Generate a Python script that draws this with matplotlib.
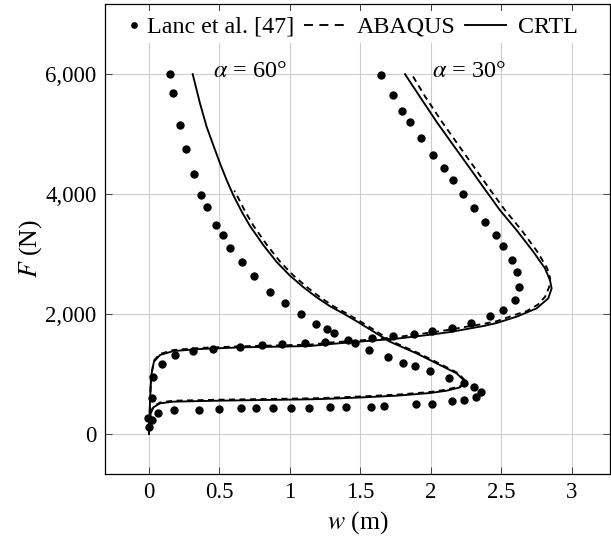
import matplotlib
matplotlib.use("Agg")
import matplotlib.pyplot as plt
from matplotlib.lines import Line2D
from matplotlib.legend_handler import HandlerBase
from matplotlib.ticker import FixedLocator

plt.rcParams['font.family'] = ['Liberation Serif', 'DejaVu Serif']
plt.rcParams['mathtext.fontset'] = 'stix'

# ---------------- data ----------------
# Lanc et al. [47], alpha = 60 deg
lanc60_w = [0.002, 0.022, 0.066, 0.18, 0.355, 0.50, 0.65, 0.76, 0.877, 1.01, 1.135, 1.284,
            1.397, 1.577, 1.668, 1.892, 2.008, 2.151, 2.235, 2.318, 2.354, 2.307, 2.236,
            2.126, 1.993, 1.889, 1.804, 1.695, 1.564, 1.463, 1.313, 1.262, 1.184, 1.076,
            0.962, 0.858, 0.742, 0.657, 0.574, 0.523, 0.477, 0.414, 0.371, 0.317, 0.262,
            0.218, 0.172, 0.149]
lanc60_F = [115, 228, 350, 398, 400, 425, 428, 428, 428, 433, 439, 450,
            456, 458, 460, 494, 508, 545, 567, 622, 698, 778, 845,
            942, 1050, 1133, 1192, 1286, 1406, 1522, 1680, 1745, 1838, 1995,
            2183, 2367, 2633, 2862, 3106, 3312, 3489, 3789, 3989, 4328, 4755,
            5145, 5694, 6000]
# Lanc et al. [47], alpha = 30 deg
lanc30_w = [-0.007, 0.024, 0.031, 0.09, 0.184, 0.31, 0.456, 0.645, 0.80, 0.94, 1.108, 1.25,
            1.415, 1.58, 1.732, 1.88, 2.01, 2.147, 2.282, 2.422, 2.513, 2.596, 2.626,
            2.607, 2.572, 2.514, 2.46, 2.381, 2.307, 2.228, 2.156, 2.09, 2.017, 1.931,
            1.853, 1.797, 1.728, 1.643]
lanc30_F = [264, 600, 956, 1175, 1314, 1383, 1415, 1453, 1483, 1494, 1522, 1539,
            1562, 1603, 1633, 1670, 1717, 1775, 1847, 1960, 2075, 2241, 2447,
            2695, 2903, 3136, 3320, 3542, 3767, 3997, 4233, 4433, 4645, 4928,
            5195, 5383, 5650, 5990]

# CRTL, alpha = 60 deg
crtl60_w = [0.0, 0.002, 0.012, 0.031, 0.078, 0.172, 0.504, 1.142, 1.284, 1.52, 1.757, 1.993,
            2.111, 2.206, 2.245, 2.182, 2.064, 1.898, 1.709, 1.556, 1.473, 1.378, 1.284,
            1.189, 1.094, 1.0, 0.905, 0.811, 0.716, 0.655, 0.598, 0.551, 0.504, 0.456,
            0.409, 0.362, 0.31]
crtl60_F = [0, 178, 344, 444, 511, 539, 556, 578, 588, 611, 639, 683,
            722, 778, 870, 1011, 1150, 1344, 1539, 1760, 1880, 2010, 2130,
            2280, 2450, 2640, 2870, 3150, 3470, 3720, 3983, 4233, 4511, 4817,
            5122, 5511, 6000]
# ABAQUS, alpha = 60 deg
abaq60_w = [0.0, 0.002, 0.012, 0.03, 0.078, 0.172, 0.504, 1.142, 1.284, 1.52, 1.757, 1.993,
            2.111, 2.206, 2.25, 2.195, 2.08, 1.915, 1.728, 1.58, 1.497, 1.402, 1.309,
            1.214, 1.12, 1.026, 0.931, 0.837, 0.742, 0.68, 0.623, 0.605]
abaq60_F = [0, 180, 350, 455, 525, 555, 572, 594, 604, 628, 656, 700,
            740, 795, 870, 1011, 1150, 1344, 1539, 1760, 1880, 2010, 2130,
            2280, 2450, 2640, 2870, 3150, 3470, 3720, 3983, 4060]

# CRTL, alpha = 30 deg
crtl30_w = [0.0, 0.007, 0.012, 0.019, 0.035, 0.078, 0.172, 0.362, 0.645, 1.142, 1.284, 1.52,
            1.757, 1.993, 2.135, 2.229, 2.371, 2.465, 2.607, 2.749, 2.832, 2.856, 2.844,
            2.809, 2.726, 2.607, 2.489, 2.395, 2.277, 2.158, 2.04, 1.922, 1.816]
crtl30_F = [0, 511, 789, 1011, 1206, 1317, 1383, 1417, 1444, 1467, 1500, 1545,
            1590, 1655, 1700, 1740, 1800, 1850, 1956, 2094, 2261, 2428, 2567,
            2761, 3039, 3400, 3733, 4039, 4428, 4817, 5205, 5622, 6000]
# ABAQUS, alpha = 30 deg
abaq30_w = [0.0, 0.007, 0.012, 0.019, 0.035, 0.078, 0.172, 0.362, 0.645, 1.142, 1.284, 1.52,
            1.757, 1.993, 2.135, 2.229, 2.371, 2.465, 2.6, 2.68, 2.76, 2.81, 2.838,
            2.845, 2.825, 2.755, 2.642, 2.525, 2.43, 2.313, 2.195, 2.078, 1.96, 1.863]
abaq30_F = [0, 515, 795, 1020, 1225, 1335, 1400, 1435, 1462, 1490, 1525, 1565,
            1615, 1690, 1740, 1780, 1835, 1880, 1990, 2050, 2160, 2290, 2450,
            2600, 2761, 3039, 3400, 3733, 4039, 4428, 4817, 5205, 5622, 6000]

x_ticks = [0, 0.5, 1, 1.5, 2, 2.5, 3]
x_ticklabels = ["0", "0.5", "1", "1.5", "2", "2.5", "3"]
y_ticks = [0, 2000, 4000, 6000]
y_ticklabels = ["0", "2,000", "4,000", "6,000"]

# ---------------- figure ----------------
W, H = 611, 541
fig = plt.figure(figsize=(W / 100, H / 100), dpi=100)
left, right, top, bottom = 105, 610, 4, 474
ax = fig.add_axes([left / W, (H - bottom) / H, (right - left) / W, (bottom - top) / H])

ax.set_xlim(-0.312, 3.27)
ax.set_ylim(-667, 7170)

fs_tick = 16.5
fs_leg = 17.3
fs_lab = 18.5
fs_ann = 17.5
lw = 1.35
dash = (0, (3.2, 2.4))
msz = 5.0

ax.plot(lanc60_w, lanc60_F, linestyle='None', marker='o', ms=msz, color='black', zorder=4)
ax.plot(lanc30_w, lanc30_F, linestyle='None', marker='o', ms=msz, color='black', zorder=4)
ax.plot(abaq60_w, abaq60_F, linestyle=dash, lw=lw, color='black', zorder=3)
ax.plot(abaq30_w, abaq30_F, linestyle=dash, lw=lw, color='black', zorder=3)
ax.plot(crtl60_w, crtl60_F, linestyle='-', lw=lw, color='black', zorder=3)
ax.plot(crtl30_w, crtl30_F, linestyle='-', lw=lw, color='black', zorder=3)

ax.text(0.455, 6040, r'$\alpha$ = 60°', fontsize=fs_ann, ha='left', va='center')
ax.text(2.005, 6040, r'$\alpha$ = 30°', fontsize=fs_ann, ha='left', va='center')

# ticks / grid
ax.xaxis.set_major_locator(FixedLocator(x_ticks))
ax.set_xticklabels(x_ticklabels)
ax.yaxis.set_major_locator(FixedLocator(y_ticks))
ax.set_yticklabels(y_ticklabels)
ax.tick_params(direction='in', length=5, width=0.7, color='#404040',
               top=True, right=True, labelsize=fs_tick, pad=6.0)
ax.grid(True, color='#cccccc', lw=0.8)
ax.set_axisbelow(True)
for s in ax.spines.values():
    s.set_linewidth(0.9)
    s.set_color('black')
    s.set_zorder(8)

ax.set_xlabel(r'$w$ (m)', fontsize=fs_lab, va='center')
ax.xaxis.set_label_coords(0.5, -0.1025)
ax.set_ylabel(r'$F$ (N)', fontsize=fs_lab, va='center')
ax.yaxis.set_label_coords(-0.148, 0.48)


class DotHandler(HandlerBase):
    def create_artists(self, legend, orig_handle, xdescent, ydescent,
                       width, height, fontsize, trans):
        x = width - xdescent - 0.05 * fontsize
        y = (height - ydescent) / 2
        ln = Line2D([x], [y], marker='o', ms=3.8, color='black', linestyle='None')
        ln.set_transform(trans)
        return [ln]


h_dot = Line2D([], [], marker='o', linestyle='None', color='black')
h_dash = Line2D([], [], linestyle=(0, (4.8, 3.4)), lw=lw, color='black')
h_solid = Line2D([], [], linestyle='-', lw=lw, color='black')
leg = ax.legend([h_dot, h_dash, h_solid], ['Lanc et al. [47]', 'ABAQUS', 'CRTL'],
                handler_map={h_dot: DotHandler()}, ncol=3, loc='center',
                bbox_to_anchor=(0.457, 0.951), fontsize=fs_leg, handlelength=1.7,
                handletextpad=0.5, columnspacing=0.4, borderpad=0.2,
                frameon=True, fancybox=False, framealpha=1,
                facecolor='white', edgecolor='none')
leg.set_zorder(6)

fig.savefig('out.png', dpi=100)
